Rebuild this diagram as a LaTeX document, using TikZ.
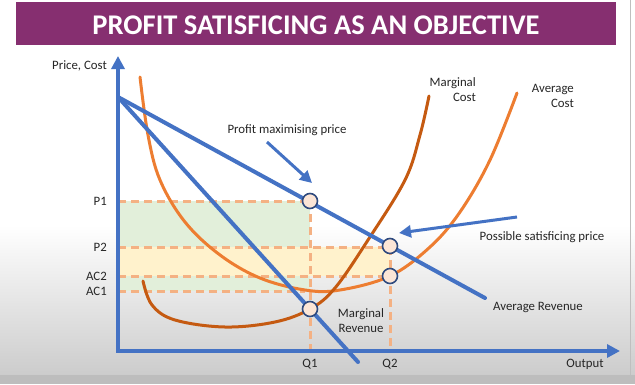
\documentclass[tikz,border=0pt]{standalone}
\usepackage{fontspec}
\setmainfont{Carlito}
\usetikzlibrary{arrows.meta, positioning}
\definecolor{cblue}{HTML}{4472C4}
\definecolor{cac}{HTML}{ED7D31}
\definecolor{cmc}{HTML}{C55A11}
\definecolor{cdash}{HTML}{F4B183}
\definecolor{cgreen}{HTML}{E2EFDA}
\definecolor{cyellow}{HTML}{FFF2CC}
\definecolor{cpurple}{HTML}{862F70}
\definecolor{cdot}{HTML}{FBE5D6}
\definecolor{cnavy}{HTML}{2F4A7E}
\definecolor{ctext}{HTML}{262626}
\tikzset{
  every picture/.style={x=1pt, y=-1pt},
  lbl/.style={font=\fontsize{12.8}{15}\selectfont, text=ctext, inner sep=1pt},
  revline/.style={draw=cblue, line width=4pt, line cap=round},
  costline/.style={draw=#1, line width=3pt, line cap=round},
  guide/.style={draw=cdash, line width=3pt, dash pattern=on 8pt off 5pt},
  pointer/.style={draw=cblue, line width=3pt, -{Triangle[length=12pt, width=12pt]}},
  axis/.style={draw=cblue, line width=4pt, -{Triangle[length=13pt, width=13pt]}},
  dot/.style={circle, draw=cnavy, fill=cdot, line width=1.6pt, minimum size=15pt, inner sep=0pt},
}
\begin{document}
\begin{tikzpicture}[title/.style={font=\fontsize{28.5}{32}\selectfont\bfseries, text=white}]
  \useasboundingbox (0,0) rectangle (635,384);
  % background
  \fill[white] (0,0) rectangle (635,384);
  \shade[top color=white, bottom color=black!20] (0,225) rectangle (635,375);
  \fill[black!26] (0,375) rectangle (635,384);
  \draw[black!25, line width=1pt] (630,0) -- (630,375);
  % title bar
  \fill[cpurple] (16,2) rectangle (616,45);
  \node[title] (heading) at (316,25) {PROFIT SATISFICING AS AN OBJECTIVE};
  % shaded areas
  \fill[cgreen] (118,201) rectangle (310,291);
  \fill[cyellow] (118,247) rectangle (390,276);
  % dashed guides
  \draw[guide] (118,201) -- (310,201);
  \draw[guide] (118,247) -- (390,247);
  \draw[guide] (118,276) -- (390,276);
  \draw[guide] (118,291) -- (305,291);
  \draw[guide] (310,201) -- (310,351);
  \draw[guide] (390,247) -- (390,351);
  % cost curves
  \draw[costline=cac] plot[smooth, tension=0.6] coordinates {(140,77) (148,135) (160,180) (185,222) (220,255) (260,278) (305,290) (340,290) (390,276) (430,247) (460,212) (490,160) (517,93)};
  \draw[costline=cmc] plot[smooth, tension=0.6] coordinates {(143,281) (152,305) (175,320) (225,327) (275,322) (310,309) (335,288) (368,240) (405,180) (420,135) (429,96)};
  % revenue lines
  \coordinate (top) at (118,97);
  \coordinate (arend) at (485,298);
  \coordinate (mrend) at (358,362);
  \draw[revline] (top) -- (arend);
  \draw[revline] (top) -- (mrend);
  % axes
  \coordinate (origin) at (118,351);
  \coordinate (ytip) at (118,56);
  \coordinate (xtip) at (620,351);
  \draw[axis] (origin) -- (ytip);
  \draw[axis] ([xshift=-2pt]origin) -- (xtip);
  % points
  \node[dot] (p1pt) at (310,201) {};
  \node[dot] (mcpt) at (310,309) {};
  \node[dot] (p2pt) at (390,246) {};
  \node[dot] (ac2pt) at (390,276) {};
  % labels
  \node[lbl, anchor=east] (pricecost) at (108,66) {Price, Cost};
  \node[lbl, anchor=east] (p1lbl) at (108,201) {P1};
  \node[lbl, anchor=east] (p2lbl) at (108,247) {P2};
  \node[lbl, anchor=east] (ac2lbl) at (108,276) {AC2};
  \node[lbl, anchor=east] (ac1lbl) at (108,291) {AC1};
  \node[lbl] (q1lbl) at (310,364) {Q1};
  \node[lbl] (q2lbl) at (390,364) {Q2};
  \node[lbl] (outlbl) at (585,364) {Output};
  \node[lbl, anchor=east, align=right] (mclbl) at (477,90) {Marginal\\Cost};
  \node[lbl, anchor=east, align=right] (aclbl) at (575,96) {Average\\Cost};
  \node[lbl] (pmlbl) at (287,130) {Profit maximising price};
  \node[lbl] (pslbl) at (542,237) {Possible satisficing price};
  \node[lbl] (arlbl) at (538,307) {Average Revenue};
  \node[lbl, align=center] (mrlbl) at (361,321) {Marginal\\Revenue};
  % pointers
  \coordinate (pmstart) at (267,142);
  \coordinate (pmtip) at (312,183);
  \coordinate (psstart) at (517,217);
  \coordinate (pstip) at (399,233);
  \draw[pointer] (pmstart) -- (pmtip);
  \draw[pointer] (psstart) -- (pstip);
\end{tikzpicture}
\end{document}
